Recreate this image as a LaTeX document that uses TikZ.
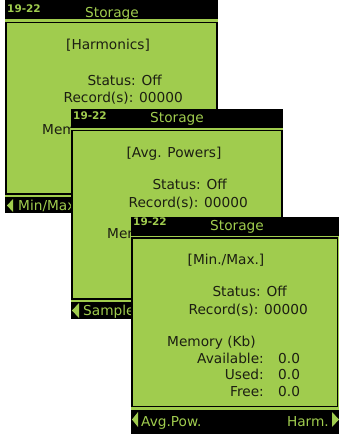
\documentclass[tikz,border=0pt]{standalone}
\usepackage{fontspec}
\setmainfont{DejaVu Sans}
\definecolor{lcdgreen}{RGB}{160,204,78}
\definecolor{lcdink}{RGB}{28,30,18}

\begin{document}
\begin{tikzpicture}[x=1pt, y=-1pt,
        screen/.style={fill=lcdgreen},
        bar/.style={fill=black},
        frame/.style={draw=black, line width=1.6pt},
        lcd/.style={font=\fontsize{13.7}{15}\selectfont, text=lcdink, inner sep=0pt},
        bartext/.style={lcd, text=lcdgreen},
        clock/.style={font=\bfseries\fontsize{10.5}{12}\selectfont, text=lcdgreen, inner sep=0pt},
        arrowtri/.style={fill=lcdgreen}
    ]
        \clip (0,0) rectangle (339,434);

        % screen 1: harmonics
        \fill[screen] (5,0) rectangle (218,213);
        \fill[bar] (5,0) rectangle (218,19);
        \draw[frame] (6,22.5) rectangle (217,194);
        \fill[bar] (5,197) rectangle (218,213);
        \node[clock, anchor=base west] (s1clock) at (7,12) {19-22};
        \node[bartext, anchor=base] (s1title) at (112,17) {Storage};
        \node[lcd, anchor=base] (s1mode) at (108,49) {[Harmonics]};
        \node[lcd, anchor=base east] (s1status) at (162,85) {Status: Off};
        \node[lcd, anchor=base east] (s1records) at (183,102) {Record(s): 00000};
        \node[lcd, anchor=base west] (s1memory) at (42,134) {Memory (Kb)};
        \fill[arrowtri] (7,205.5) -- (13,199) -- (13,212) -- cycle;
        \node[bartext, anchor=base west] (s1prev) at (18,210) {Min/Max.};

        % screen 2: avg. powers
        \fill[screen] (71,109) rectangle (283,319);
        \fill[bar] (71,109) rectangle (283,128);
        \draw[frame] (72,130.5) rectangle (282,299);
        \fill[bar] (71,302) rectangle (283,319);
        \node[clock, anchor=base west] (s2clock) at (73,119) {19-22};
        \node[bartext, anchor=base] (s2title) at (177,122) {Storage};
        \node[lcd, anchor=base] (s2mode) at (174,157) {[Avg. Powers]};
        \node[lcd, anchor=base east] (s2status) at (227,189) {Status: Off};
        \node[lcd, anchor=base east] (s2records) at (248,207) {Record(s): 00000};
        \node[lcd, anchor=base west] (s2memory) at (107,238) {Memory (Kb)};
        \fill[arrowtri] (72,310.5) -- (79,303) -- (79,318) -- cycle;
        \node[bartext, anchor=base west] (s2prev) at (83,315) {Sample};

        % screen 3: min./max.
        \fill[screen] (131,217) rectangle (339,434);
        \fill[bar] (131,217) rectangle (339,235.5);
        \draw[frame] (132,238) rectangle (337.5,406.5);
        \fill[bar] (131,409.5) rectangle (339,434);
        \node[clock, anchor=base west] (s3clock) at (133,225) {19-22};
        \node[bartext, anchor=base] (s3title) at (237,230) {Storage};
        \node[lcd, anchor=base] (s3mode) at (226,264) {[Min./Max.]};
        \node[lcd, anchor=base east] (s3status) at (287,296) {Status: Off};
        \node[lcd, anchor=base east] (s3records) at (308,314) {Record(s): 00000};
        \node[lcd, anchor=base west] (s3memory) at (167,346) {Memory (Kb)};
        \node[lcd, anchor=base east] (s3avail) at (264,363) {Available:};
        \node[lcd, anchor=base west] (s3availval) at (278,363) {0.0};
        \node[lcd, anchor=base east] (s3used) at (264,379) {Used:};
        \node[lcd, anchor=base west] (s3usedval) at (278,379) {0.0};
        \node[lcd, anchor=base east] (s3free) at (264,396) {Free:};
        \node[lcd, anchor=base west] (s3freeval) at (278,396) {0.0};
        \fill[arrowtri] (132,419.5) -- (138,412) -- (138,427) -- cycle;
        \node[bartext, anchor=base west] (s3prev) at (141,426) {Avg.Pow.};
        \fill[arrowtri] (339,419.5) -- (332,412) -- (332,427) -- cycle;
        \node[bartext, anchor=base east] (s3next) at (329,426) {Harm.};
    \end{tikzpicture}
\end{document}
